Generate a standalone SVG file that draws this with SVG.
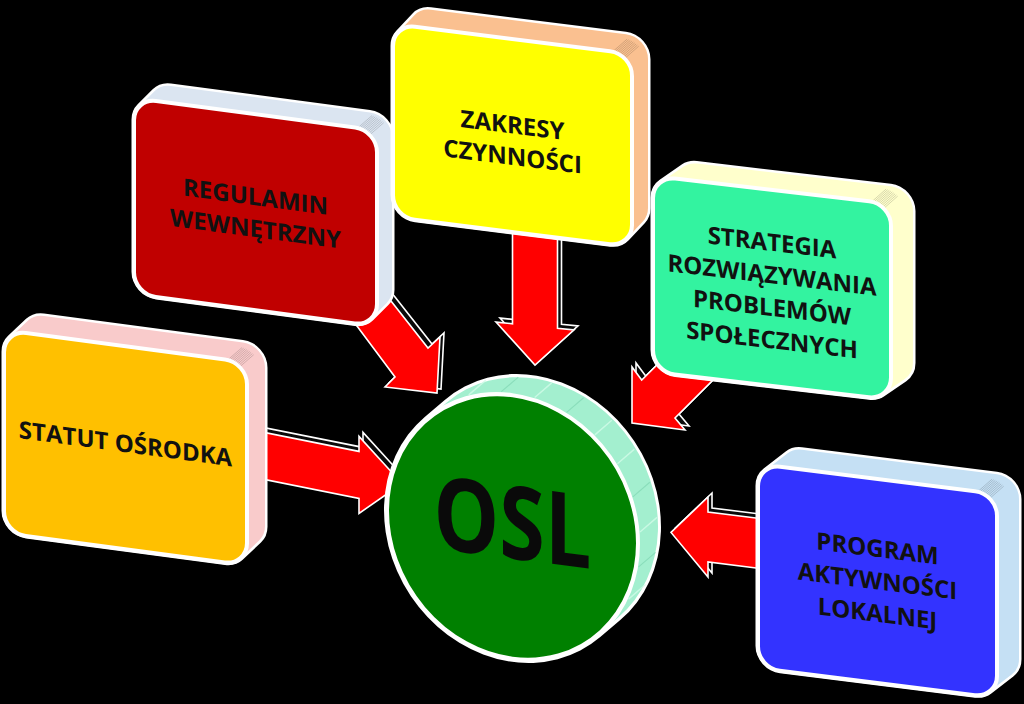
<svg xmlns="http://www.w3.org/2000/svg" width="1024" height="704" viewBox="0 0 1024 704">
<style>
.afr{fill:#ff0000;stroke:#ffffff;stroke-width:1.6;stroke-linejoin:miter}
.ash{fill:#0a0a0a;stroke:#ffffff;stroke-width:1.6;stroke-linejoin:miter}
.out{fill:#ffffff;stroke:#ffffff;stroke-width:49;stroke-linejoin:round}
.side{stroke-width:44;stroke-linejoin:round}
.front{stroke:#ffffff;stroke-width:4}
.tex{fill:none;stroke:#000000;stroke-opacity:0.22;stroke-width:0.7}
.streak{fill:none;stroke:#d2fbe9;stroke-width:1.4;stroke-opacity:0.8}
.streak2{fill:none;stroke:#7fd6b2;stroke-width:1;stroke-opacity:0.7}
.lbl{font-family:"Open Sans","Liberation Sans",sans-serif;font-weight:700;font-size:24px;fill:#111111;text-anchor:middle}
.big{font-family:"Open Sans","Liberation Sans",sans-serif;font-weight:700;font-size:97px;fill:#0a0a0a;text-anchor:middle}
</style>
<defs>
<polygon id="a1" points="242,428 359,451.4 359,436.4 402,483.5 359,513.4 359,498.4 242,475"/>
<polygon id="a2" points="380,287 428,348 440,337 437,393 385,387 395,377 345,310"/>
<polygon id="a3" points="512.5,213.75 557.5,218.25 557.5,328.25 574,329.9 535,365 496,322.1 512.5,323.75"/>
<polygon id="a4" points="670,352 641.7,380 632,367 632,423 685,430 675,418 717,376"/>
<polygon id="a5" points="671,532.4 708,497 708,512 778,520.75 778,570.75 708,562 708,577"/>
<polygon id="s-statut" points="22,181 22,22 40,2.6 239,2.6 239,161.6 221,181"/>
<polygon id="s-regul" points="22,174 22,22 37,5 236,5 236,157 221,174"/>
<polygon id="s-zakr" points="22,171 22,22 38,3 233,3 233,152 217,171"/>
<polygon id="s-strat" points="22,174 22,22 44,4.4 238,4.4 238,156.4 216,174"/>
<polygon id="s-prog" points="22,182 22,22 44,2.3 239,2.3 239,162.3 217,182"/>
<path id="pages" d="M4.1,-23.2 l13,-13 M5.7,-22.8 l13,-13 M7.3,-22.3 l13,-13 M8.8,-21.7 l13,-13 M10.3,-21.1 l13,-13 M11.7,-20.3 l13,-13 M13.1,-19.5 l13,-13 M14.4,-18.5 l13,-13 M15.7,-17.5 l13,-13"/>
</defs>
<rect x="0" y="0" width="1024" height="704" fill="#000000"/>

<g id="connectors">
  <g id="arrow-statut"><use href="#a1" class="ash" transform="translate(4,-4)"/><use href="#a1" class="afr"/></g>
  <g id="arrow-regulamin"><use href="#a2" class="ash" transform="translate(4,-4)"/><use href="#a2" class="afr"/></g>
  <g id="arrow-zakresy"><use href="#a3" class="ash" transform="translate(4,-4)"/><use href="#a3" class="afr"/></g>
  <g id="arrow-strategia"><use href="#a4" class="ash" transform="translate(4,-4)"/><use href="#a4" class="afr"/></g>
  <g id="arrow-program"><use href="#a5" class="ash" transform="translate(4,-4)"/><use href="#a5" class="afr"/></g>
</g>

<g id="node-statut" transform="translate(4,330) skewY(7.58)">
  <use href="#s-statut" class="out"/>
  <use href="#s-statut" class="side" fill="#f9cbcb" stroke="#f9cbcb"/>
  <use href="#pages" class="tex" transform="translate(221,22)"/>
  <rect class="front" x="0" y="0" width="243" height="203" rx="22" fill="#ffc000"/>
  <text class="lbl" x="121.5" y="106">STATUT OŚRODKA</text>
</g>

<g id="node-regulamin" transform="translate(134,98) skewY(7.58)">
  <use href="#s-regul" class="out"/>
  <use href="#s-regul" class="side" fill="#dbe5f1" stroke="#dbe5f1"/>
  <use href="#pages" class="tex" transform="translate(221,22)"/>
  <rect class="front" x="0" y="0" width="243" height="196" rx="22" fill="#c00000"/>
  <text class="lbl" x="121.5" y="91">REGULAMIN</text>
  <text class="lbl" x="121.5" y="123">WEWNĘTRZNY</text>
</g>

<g id="node-zakresy" transform="translate(393,24) skewY(7.13)">
  <use href="#s-zakr" class="out"/>
  <use href="#s-zakr" class="side" fill="#fac090" stroke="#fac090"/>
  <use href="#pages" class="tex" transform="translate(217,22)"/>
  <rect class="front" x="0" y="0" width="239" height="193" rx="22" fill="#ffff00"/>
  <text class="lbl" x="119.5" y="94.5">ZAKRESY</text>
  <text class="lbl" x="119.5" y="126">CZYNNOŚCI</text>
</g>

<g id="node-strategia" transform="translate(653,176) skewY(6.67)">
  <use href="#s-strat" class="out"/>
  <use href="#s-strat" class="side" fill="#ffffcc" stroke="#ffffcc"/>
  <use href="#pages" class="tex" transform="translate(216,22)"/>
  <rect class="front" x="0" y="0" width="238" height="196" rx="22" fill="#33f3a0"/>
  <text class="lbl" x="119" y="61">STRATEGIA</text>
  <text class="lbl" x="119" y="93.5">ROZWIĄZYWANIA</text>
  <text class="lbl" x="119" y="126">PROBLEMÓW</text>
  <text class="lbl" x="119" y="158.5">SPOŁECZNYCH</text>
</g>

<g id="node-program" transform="translate(758,464) skewY(7.13)">
  <use href="#s-prog" class="out"/>
  <use href="#s-prog" class="side" fill="#c5e0f4" stroke="#c5e0f4"/>
  <use href="#pages" class="tex" transform="translate(217,22)"/>
  <rect class="front" x="0" y="0" width="239" height="204" rx="22" fill="#3333ff"/>
  <text class="lbl" x="119.5" y="78">PROGRAM</text>
  <text class="lbl" x="119.5" y="110.5">AKTYWNOŚCI</text>
  <text class="lbl" x="119.5" y="143">LOKALNEJ</text>
</g>

<g id="node-osl" transform="translate(512.5,527) skewY(7.5) scale(1,1.05)">
  <line x1="0" y1="0" x2="20" y2="-18.7" stroke="#ffffff" stroke-width="257" stroke-linecap="round"/>
  <line x1="0" y1="0" x2="20" y2="-18.7" stroke="#a3efcf" stroke-width="251" stroke-linecap="round"/>
  <path class="streak" d="M-43.8,-120.3 l17,-16 M22.2,-126.1 l17,-16 M82.3,-98.1 l17,-16 M104.9,-73.4 l17,-16 M127.5,-11.2 l17,-16 M116,54.1 l17,-16"/>
  <path class="streak2" d="M-11.2,-127.5 l17,-16 M54.1,-116 l17,-16 M120.3,-43.8 l17,-16 M126.1,22.2 l17,-16"/>
  <circle class="front" cx="0" cy="0" r="125.5" fill="#008000"/>
  <text class="big" x="0" y="30" textLength="158" lengthAdjust="spacingAndGlyphs">OSL</text>
</g>
</svg>
